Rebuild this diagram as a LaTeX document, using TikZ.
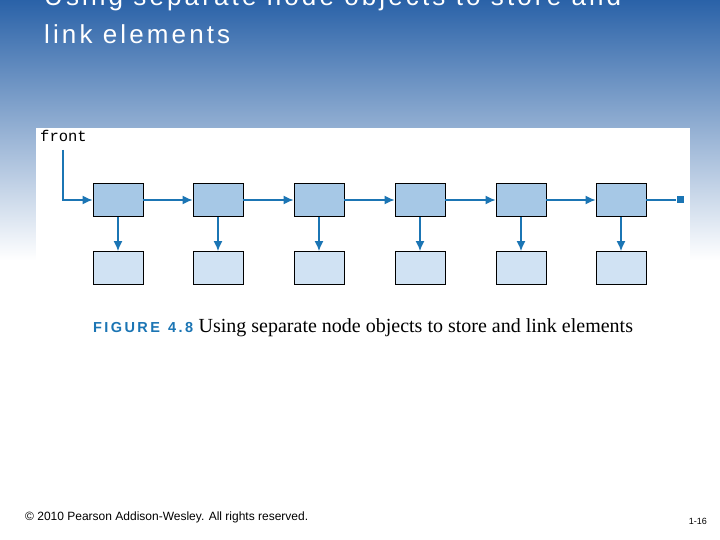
\documentclass[tikz,border=0pt]{standalone}
\usepackage{fontspec}
\setmainfont{Liberation Sans}
\newfontfamily\capserif{Liberation Serif}
\newfontfamily\codefont{Liberation Mono}
\newfontfamily\titlefont[LetterSpace=12]{Liberation Sans}
\usetikzlibrary{positioning}
\definecolor{slideblue}{HTML}{2A62A8}
\definecolor{linkblue}{HTML}{1B75B4}
\definecolor{nodefill}{HTML}{A6C8E6}
\definecolor{datafill}{HTML}{D0E2F3}
\tikzset{
  nodebox/.style={draw=black, fill=nodefill, line width=0.9pt, minimum width=50pt, minimum height=33pt, inner sep=0pt},
  databox/.style={nodebox, fill=datafill},
  link/.style={draw=linkblue, line width=1.4pt, -{Latex[length=10pt,width=9pt]}}
}
\usetikzlibrary{arrows.meta}
\begin{document}
\begin{tikzpicture}[x=1pt,y=-1pt]
\useasboundingbox (0,0) rectangle (720,540);
% slide background
\shade[top color=slideblue, bottom color=white] (0,0) rectangle (720,260);
\fill[white] (0,260) rectangle (720,540);
\node[anchor=base west, text=white, font=\titlefont\fontsize{26}{38}\selectfont, align=left, inner sep=0pt] (title) at (44,44) {Using separate node objects to store and\\link elements};
% figure panel
\fill[white] (36,128) rectangle (690,338);
\node[anchor=north west, font=\codefont\fontsize{15.5}{15.5}\selectfont, inner sep=0pt] (front) at (40,130) {front};
\foreach \i/\x in {1/118,2/218,3/319,4/420,5/521,6/621} {
  \node[nodebox] (n\i) at (\x,200) {};
  \node[databox] (d\i) at (\x,268) {};
  \draw[link] (n\i) -- (d\i);
}
\foreach \i/\j in {1/2,2/3,3/4,4/5,5/6} \draw[link] (n\i) -- (n\j);
\coordinate (fstart) at (63,150);
\draw[link] (fstart) |- (n1);
\node[fill=linkblue, minimum size=7pt, inner sep=0pt] (nil) at (680,200) {};
\draw[draw=linkblue, line width=1.4pt] (n6) -- (nil);
\node[anchor=west, inner sep=0pt] (cap) at (93,328) {\textcolor{linkblue}{\bfseries\fontsize{14.5}{14.5}\selectfont F\,I\,G\,U\,R\,E\ \ 4\,.\,8}\ \ {\capserif\fontsize{20}{20}\selectfont Using separate node objects to store and link elements}};
% footer
\node[anchor=west, font=\fontsize{12}{12}\selectfont, inner sep=0pt] (copy) at (25,517) {© 2010 Pearson Addison-Wesley. All rights reserved.};
\node[anchor=east, font=\fontsize{9}{9}\selectfont, inner sep=0pt] (page) at (707,521) {1-16};
\end{tikzpicture}
\end{document}
